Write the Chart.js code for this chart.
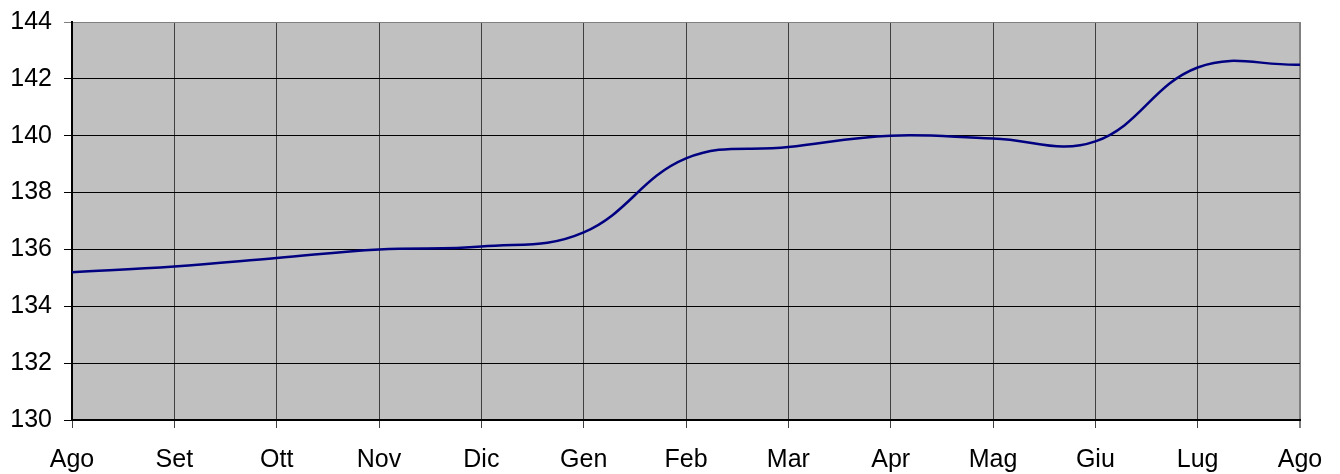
<!DOCTYPE html>
<html>
<head>
<meta charset="utf-8">
<script src="https://cdn.jsdelivr.net/npm/chart.js@4"></script>
<style>
html,body{margin:0;padding:0;background:#fff;}
#wrap{width:1340px;height:474px;}
</style>
</head>
<body>
<div id="wrap"><canvas id="c" width="1340" height="474"></canvas></div>
<script>
const categories = ["Ago","Set","Ott","Nov","Dic","Gen","Feb","Mar","Apr","Mag","Giu","Lug","Ago"];
const values = [135.2,135.4,135.7,136.0,136.1,136.6,139.2,139.6,140.0,139.9,139.8,142.4,142.5];
const yMin = 130, yMax = 144, yStep = 2;

const bgPlugin = {
  id: 'plotBg',
  beforeDraw(chart) {
    const a = chart.chartArea, ctx = chart.ctx;
    ctx.save();
    ctx.fillStyle = '#C0C0C0';
    ctx.fillRect(a.left, a.top, a.right - a.left, a.bottom - a.top);
    ctx.restore();
  }
};

new Chart(document.getElementById('c'), {
  type: 'line',
  data: {
    labels: categories,
    datasets: [{
      data: values,
      borderColor: '#000080',
      borderWidth: 2.5,
      pointRadius: 0,
      tension: 0.4,
      fill: false
    }]
  },
  options: {
    responsive: false,
    animation: false,
    devicePixelRatio: 1,
    layout: { padding: { top: 22, right: 40, left: 0, bottom: 0 } },
    plugins: { legend: { display: false }, tooltip: { enabled: false } },
    scales: {
      x: {
        offset: false,
        afterFit(s) { s.height = 54; },
        grid: {
          color: (c) => (c.index === categories.length - 1 ? '#808080' : '#404040'),
          lineWidth: (c) => (c.index === categories.length - 1 ? 2 : 1),
          tickLength: 8,
          drawOnChartArea: true
        },
        border: { color: '#000', width: 2 },
        ticks: { color: '#000', font: { family: 'Liberation Sans', size: 25 }, padding: 17, maxRotation: 0, autoSkip: false }
      },
      y: {
        min: yMin, max: yMax,
        afterFit(s) { s.width = 72; },
        grid: {
          color: (c) => (c.tick && c.tick.value === yMax ? '#808080' : '#000'),
          lineWidth: 1,
          tickLength: 8
        },
        border: { color: '#000', width: 2 },
        ticks: { stepSize: yStep, color: '#000', font: { family: 'Liberation Sans', size: 25, lineHeight: 0.6 }, padding: 12 }
      }
    }
  },
  plugins: [bgPlugin]
});
</script>
</body>
</html>
